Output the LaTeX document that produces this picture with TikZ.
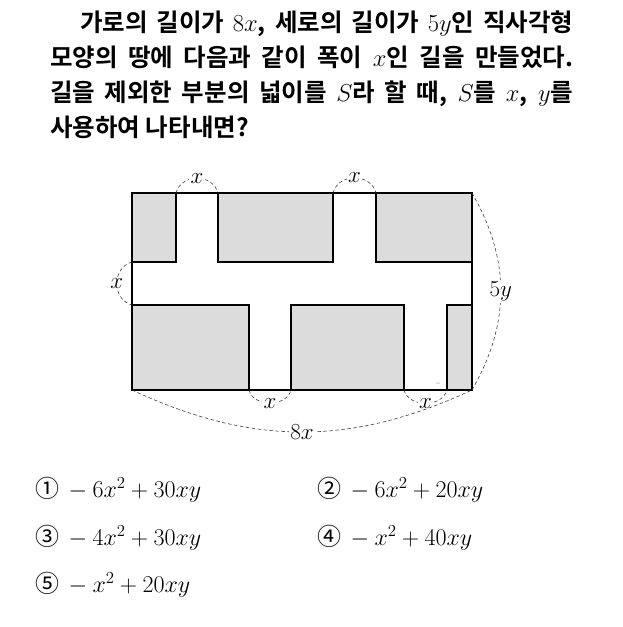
\RequirePackage{fix-cm}
\documentclass[tikz,border=0pt]{standalone}
\usepackage{fontspec}
\newfontfamily\kr{Noto Sans CJK KR Bold}
\newfontfamily\krr{Noto Sans CJK KR}
\definecolor{lotgray}{RGB}{220,220,220}
\begin{document}
\begin{tikzpicture}[x=1pt,y=-1pt,
  lot/.style={fill=lotgray,draw=black,line width=1.6pt},
  outer/.style={draw=black,line width=1.6pt},
  dim/.style={draw=black!80,line width=0.55pt,dash pattern=on 3.5pt off 2.5pt},
  lab/.style={fill=white,inner sep=1.5pt,font=\fontsize{23}{23}\selectfont},
  para/.style={anchor=base west,inner sep=0pt,font=\kr\fontsize{24.5}{35}\selectfont},
  opt/.style={anchor=base west,inner sep=0pt,font=\fontsize{24}{28}\selectfont},
  tiny/.style={inner sep=0pt,text=black!45,font=\fontsize{3}{3}\selectfont}]
\useasboundingbox (0,0) rectangle (622,627);
% question text
\node[para] (l1) at (80,31) {\makebox[493pt][s]{가로의 길이가 $8x$, 세로의 길이가 $5y$인 직사각형}};
\node[para] (l2) at (50,66) {\makebox[523pt][s]{모양의 땅에 다음과 같이 폭이 $x$인 길을 만들었다.}};
\node[para] (l3) at (50,101) {\makebox[523pt][s]{길을 제외한 부분의 넓이를 $S$라 할 때, $S$를 $x$, $y$를}};
\node[para] (l4) at (50,136) {사용하여 나타내면?};
% land
\draw[outer] (132,193) rectangle (472,390);
\draw[lot] (132,193) rectangle (176,262);
\draw[lot] (218,193) rectangle (333,262);
\draw[lot] (376,193) rectangle (472,262);
\draw[lot] (132,305) rectangle (249,390);
\draw[lot] (291,305) rectangle (404,390);
\draw[lot] (447,305) rectangle (472,390);
\node[tiny] (wm) at (438,383) {ab};
% dimension points
\coordinate (tl) at (132,193);
\coordinate (tr) at (472,193);
\coordinate (bl) at (132,390);
\coordinate (br) at (472,390);
\coordinate (a1) at (176,193);
\coordinate (a2) at (218,193);
\coordinate (b1) at (333,193);
\coordinate (b2) at (376,193);
\coordinate (c1) at (132,262);
\coordinate (c2) at (132,305);
\coordinate (d1) at (249,390);
\coordinate (d2) at (291,390);
\coordinate (e1) at (404,390);
\coordinate (e2) at (447,390);
% dimension arcs
\draw[dim] (a1) to[bend left=75,looseness=1.25] node[lab] (xa) {$x$} (a2);
\draw[dim] (b1) to[bend left=75,looseness=1.25] node[lab] (xb) {$x$} (b2);
\draw[dim] (c1) to[bend right=75,looseness=1.25] node[lab] (xc) {$x$} (c2);
\draw[dim] (d1) to[bend right=75,looseness=1.1] node[lab] (xd) {$x$} (d2);
\draw[dim] (e1) to[bend right=75,looseness=1.1] node[lab] (xe) {$x$} (e2);
\draw[dim] (tr) to[bend left=30] node[lab] (y5) {$5y$} (br);
\draw[dim] (bl) to[bend right=25] node[lab] (x8) {$8x$} (br);
% options
\node[opt] (o1) at (35,497) {{\krr ①}\hspace{4pt}${}-6x^2+30xy$};
\node[opt] (o2) at (317,497) {{\krr ②}\hspace{4pt}${}-6x^2+20xy$};
\node[opt] (o3) at (35,545) {{\krr ③}\hspace{4pt}${}-4x^2+30xy$};
\node[opt] (o4) at (317,545) {{\krr ④}\hspace{4pt}${}-x^2+40xy$};
\node[opt] (o5) at (35,592) {{\krr ⑤}\hspace{4pt}${}-x^2+20xy$};
\end{tikzpicture}
\end{document}
